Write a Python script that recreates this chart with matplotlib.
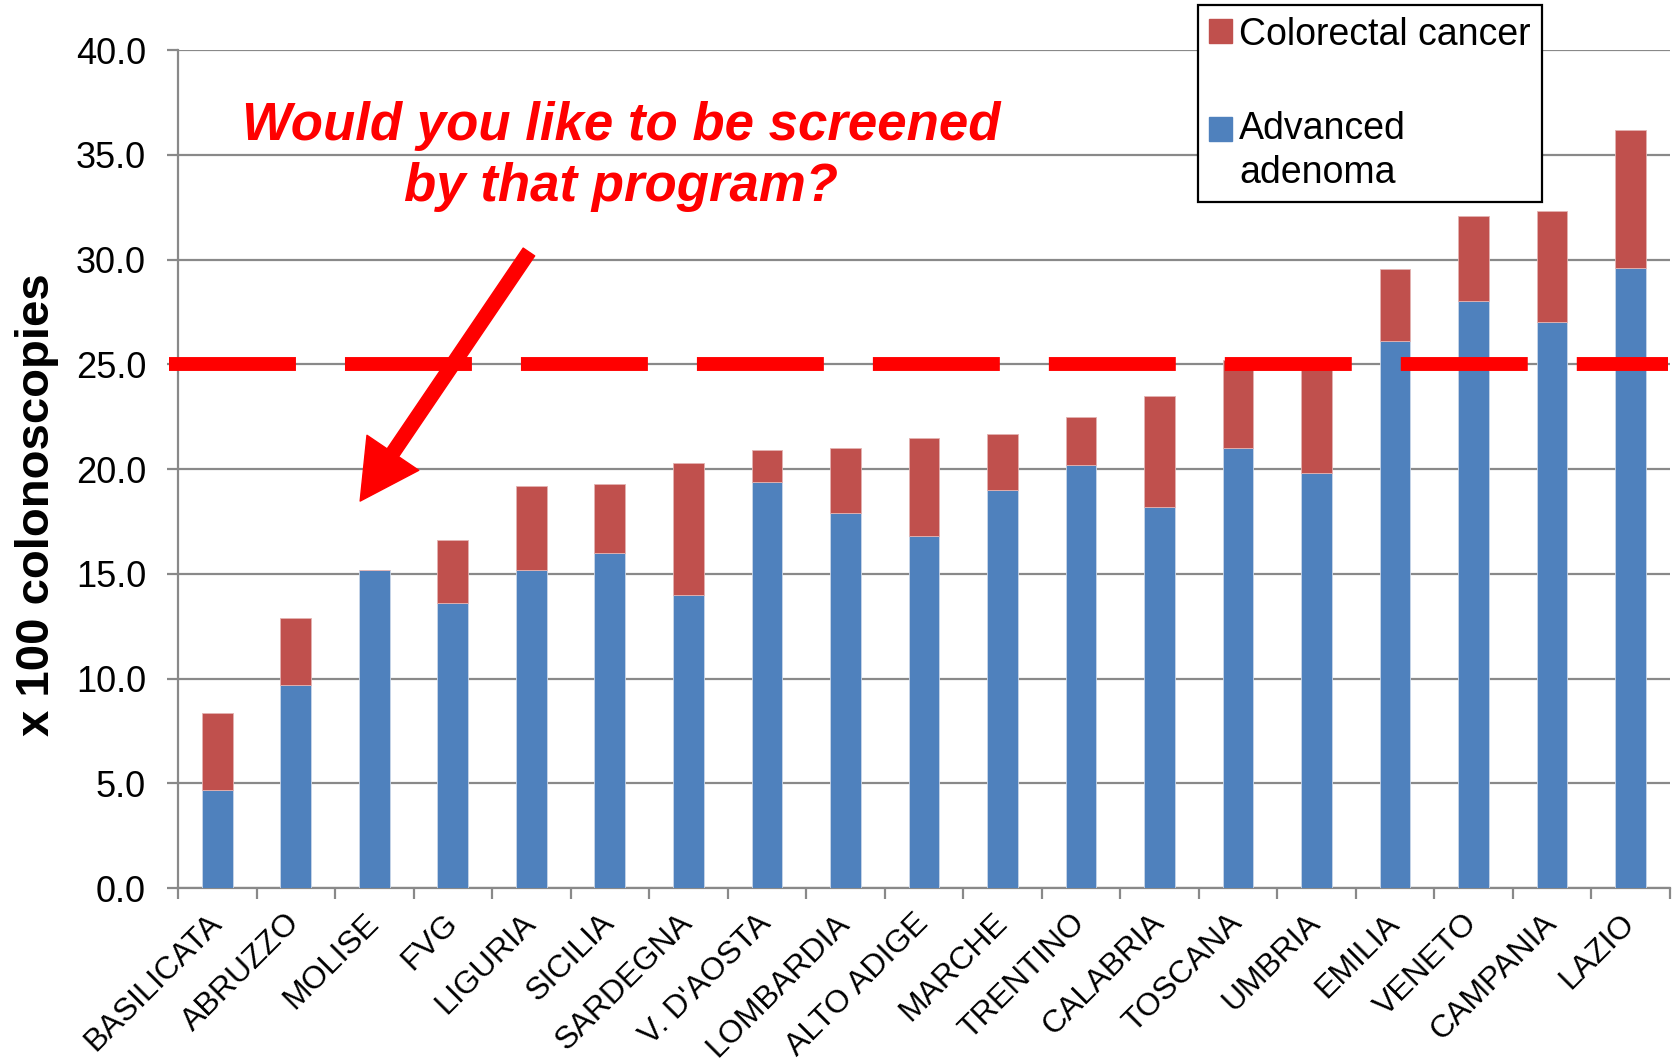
import matplotlib
matplotlib.use("Agg")
import matplotlib.pyplot as plt
from matplotlib.patches import FancyArrowPatch, Patch, Rectangle
from matplotlib.legend_handler import HandlerPatch
from matplotlib.ticker import FixedLocator, FormatStrFormatter

plt.rcParams['font.family'] = ['Liberation Sans', 'DejaVu Sans']
plt.rcParams['lines.scale_dashes'] = False

# regions ordered by total detection rate
regions = ['BASILICATA', 'ABRUZZO', 'MOLISE', 'FVG', 'LIGURIA', 'SICILIA',
           'SARDEGNA', "V. D'AOSTA", 'LOMBARDIA', 'ALTO ADIGE', 'MARCHE',
           'TRENTINO', 'CALABRIA', 'TOSCANA', 'UMBRIA', 'EMILIA', 'VENETO',
           'CAMPANIA', 'LAZIO']
# advanced adenoma per 100 colonoscopies (bottom segment)
adenoma = [4.7, 9.7, 15.2, 13.6, 15.2, 16.0, 14.0, 19.4, 17.9, 16.8, 19.0,
           20.2, 18.2, 21.0, 19.8, 26.1, 28.0, 27.0, 29.6]
# total height, adenoma + colorectal cancer
total = [8.35, 12.9, 15.2, 16.6, 19.2, 19.3, 20.3, 20.9, 21.0, 21.5, 21.65,
         22.5, 23.5, 25.2, 25.1, 29.55, 32.1, 32.3, 36.2]
cancer = [t - a for t, a in zip(total, adenoma)]
target = 25.0

blue = '#4F81BD'
red = '#C0504D'
grid = '#898989'

fig = plt.figure(figsize=(16.73, 10.62), dpi=100)
ax = fig.add_axes([0.1064, 0.1638, 0.8916, 0.7891])

x = list(range(len(regions)))
ax.bar(x, adenoma, width=0.39, color=blue, edgecolor='#c9d6e8', linewidth=0.6,
       zorder=3)
ax.bar(x, cancer, bottom=adenoma, width=0.39, color=red, edgecolor='#e3b2b1',
       linewidth=0.6, zorder=3)

ax.set_xlim(-0.5, len(regions) - 0.5)
ax.set_ylim(0, 40)
ax.set_yticks([0, 5, 10, 15, 20, 25, 30, 35, 40])
ax.yaxis.set_major_formatter(FormatStrFormatter('%.1f'))
ax.yaxis.grid(True, color=grid, linewidth=1.6, zorder=0)
ax.set_axisbelow(True)

# category ticks sit between the bars
ax.set_xticks(x)
ax.set_xticklabels(regions, rotation=45, ha='right', va='center',
                   rotation_mode='anchor', fontsize=23)
ax.tick_params(axis='x', which='major', length=0, pad=22)
ax.xaxis.set_minor_locator(FixedLocator([i - 0.5 for i in range(len(regions) + 1)]))
ax.tick_params(axis='x', which='minor', length=8, width=1.6, color=grid)
ax.tick_params(axis='y', labelsize=26, length=8, width=1.6, color=grid, pad=15)

for side in ['top', 'right']:
    ax.spines[side].set_visible(False)
for side in ['left', 'bottom']:
    ax.spines[side].set_color(grid)
    ax.spines[side].set_linewidth(1.6)

ax.set_ylabel('x 100 colonoscopies', fontsize=34, fontweight='bold')
ax.yaxis.set_label_coords(-0.080, 0.457)

# 25 per 100 reference level
ax.plot([-0.62, 18.48], [target, target], color='#FF0000', linewidth=10,
        dashes=(91.4, 35.3), solid_capstyle='butt', dash_capstyle='butt',
        zorder=5, clip_on=False)

ax.text(5.14, 34.9, 'Would you like to be screened\nby that program?',
        ha='center', va='center', color='#FF0000', fontsize=38,
        fontweight='bold', fontstyle='italic', linespacing=1.28, zorder=6)

arrow = FancyArrowPatch((3.97, 30.36), (1.82, 18.47),
                        arrowstyle='simple,head_length=0.42,head_width=0.45,tail_width=0.1',
                        mutation_scale=100, color='#FF0000', shrinkA=0, shrinkB=0,
                        zorder=6)
ax.add_patch(arrow)


# legend key level with the first line of a two-line label
def first_line_key(legend, orig_handle, xdescent, ydescent, width, height, fontsize):
    lift = 0.6 * fontsize if '\n' in orig_handle.get_label() else 0
    return Rectangle((-xdescent, -ydescent + lift), width, height)


handles = [Patch(color=red, label='Colorectal cancer'),
           Patch(color=blue, label='Advanced\nadenoma')]
leg = fig.legend(handles=handles, loc='upper left', bbox_to_anchor=(0.716, 0.995),
                 fontsize=27, frameon=True, fancybox=False, framealpha=1,
                 edgecolor='black', handlelength=0.6, handleheight=0.6,
                 handletextpad=0.2, labelspacing=1.55, borderpad=0.3,
                 borderaxespad=0,
                 handler_map={Patch: HandlerPatch(patch_func=first_line_key)})
leg.get_frame().set_linewidth(1.6)
leg.get_texts()[1].set_linespacing(1.3)

fig.savefig('out.png', dpi=100)
